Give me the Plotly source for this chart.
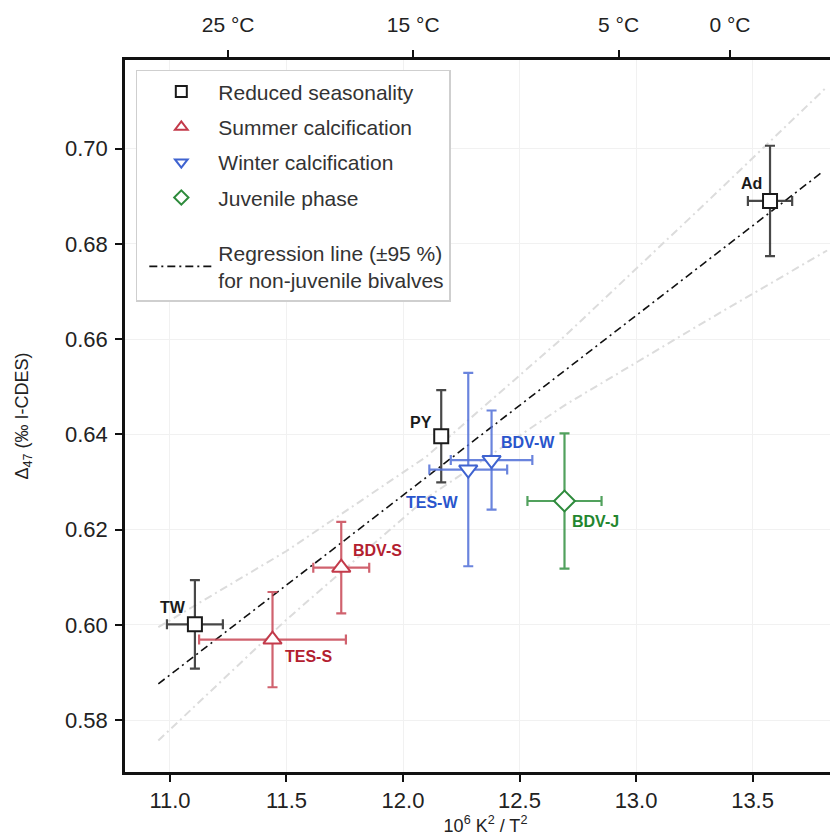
import plotly.graph_objects as go

# ---------------- data ----------------
labels   = ["TW", "PY", "Ad", "TES-S", "BDV-S", "TES-W", "BDV-W", "BDV-J"]
groups   = ["Reduced seasonality", "Reduced seasonality", "Reduced seasonality",
            "Summer calcification", "Summer calcification",
            "Winter calcification", "Winter calcification", "Juvenile phase"]
x_vals   = [11.107, 12.164, 13.575, 11.440, 11.735, 12.280, 12.380, 12.693]
y_vals   = [0.6001, 0.6396, 0.6890, 0.5969, 0.6120, 0.6326, 0.6346, 0.6260]
x_err    = [0.120, 0.0, 0.095, 0.315, 0.120, 0.167, 0.175, 0.159]
y_err    = [0.0093, 0.0097, 0.0116, 0.0100, 0.0096, 0.0203, 0.0104, 0.0142]

# regression line and its 95 % band
reg_x    = [10.95, 13.80]
reg_y    = [0.5876, 0.6951]
band_x   = [10.95, 11.50, 12.10, 12.70, 13.30, 13.82]
band_up  = [0.5995, 0.6155, 0.6353, 0.6609, 0.6886, 0.7130]
band_lo  = [0.5757, 0.6011, 0.6266, 0.6463, 0.6638, 0.6786]

x_ticks  = [11.0, 11.5, 12.0, 12.5, 13.0, 13.5]
y_ticks  = [0.58, 0.60, 0.62, 0.64, 0.66, 0.68, 0.70]
top_temps_c = [25, 15, 5, 0]
top_tick_text = ["25 °C", "15 °C", "5 °C", "0 °C"]

# ---------------- styles ----------------
FONT = "Liberation Sans, Arial, Helvetica, sans-serif"
style = {
    "Reduced seasonality":  dict(symbol="square-open",        line="#1a1a1a", err="rgba(40,40,40,0.85)",   text="#1a1a1a", size=14),
    "Summer calcification": dict(symbol="triangle-up-open",   line="#c33a4a", err="rgba(200,70,85,0.85)",  text="#b3202f", size=16),
    "Winter calcification": dict(symbol="triangle-down-open", line="#3f63d0", err="rgba(80,110,215,0.85)", text="#2a55cc", size=16),
    "Juvenile phase":       dict(symbol="diamond-open",       line="#2e8b3c", err="rgba(50,145,65,0.85)",  text="#23862f", size=16),
}
label_pos = {  # xanchor, xshift(px), yshift(px)
    "TW":    ("right", -7, 17),
    "PY":    ("right", -7, 14),
    "Ad":    ("right", -6, 17),
    "TES-S": ("left", 10, -17),
    "BDV-S": ("left", 10, 17),
    "TES-W": ("right", -8, -33),
    "BDV-W": ("left", 7, 18),
    "BDV-J": ("left", 5, -20),
}

fig = go.Figure()
dash = "8px,4px,2px,4px"

# band and regression
fig.add_trace(go.Scatter(x=band_x, y=band_up, mode="lines", showlegend=False, hoverinfo="skip",
                         line=dict(color="#dcdcdc", width=2, dash=dash)))
fig.add_trace(go.Scatter(x=band_x, y=band_lo, mode="lines", showlegend=False, hoverinfo="skip",
                         line=dict(color="#dcdcdc", width=2, dash=dash)))
fig.add_trace(go.Scatter(x=reg_x, y=reg_y, mode="lines", showlegend=False, hoverinfo="skip",
                         line=dict(color="#111111", width=1.6, dash=dash)))

# data points with error bars
for i, lab in enumerate(labels):
    s = style[groups[i]]
    fig.add_trace(go.Scatter(
        x=[x_vals[i]], y=[y_vals[i]], mode="markers", showlegend=False,
        marker=dict(symbol=s["symbol"].replace("-open", ""), size=s["size"], color="white",
                    line=dict(color=s["line"], width=2)),
        error_x=dict(type="data", array=[x_err[i]], visible=x_err[i] > 0, color=s["err"], thickness=2.2, width=5),
        error_y=dict(type="data", array=[y_err[i]], visible=True, color=s["err"], thickness=2.2, width=5),
    ))
    xa, xs, ys = label_pos[lab]
    fig.add_annotation(x=x_vals[i], y=y_vals[i], text="<b>%s</b>" % lab, showarrow=False,
                       xanchor=xa, yanchor="middle", xshift=xs, yshift=ys,
                       font=dict(family=FONT, size=16, color=s["text"]))

# legend entries (each its own group so the row spacing can be set)
legend_groups = ["Reduced seasonality", "Summer calcification", "Winter calcification", "Juvenile phase"]
for k, g in enumerate(legend_groups):
    s = style[g]
    fig.add_trace(go.Scatter(x=[None], y=[None], mode="markers", name=g, legendgroup="g%d" % k,
                             marker=dict(symbol=s["symbol"], size=11, color=s["line"],
                                         line=dict(color=s["line"], width=2))))
fig.add_trace(go.Scatter(x=[None], y=[None], mode="lines", legendgroup="reg",
                         legendgrouptitle=dict(text=" ", font=dict(size=13)),
                         name="Regression line (±95 %)<br>for non-juvenile bivalves",
                         line=dict(color="#111111", width=1.6, dash=dash)))

# top axis positions: 10^6 / T^2 (T in K)
top_tick_vals = [1e6 / (t + 273.15) ** 2 for t in top_temps_c]
xr = [10.807, 13.901]

fig.update_layout(
    width=838, height=838,
    margin=dict(l=117, r=0, t=52, b=74),
    paper_bgcolor="white", plot_bgcolor="white",
    font=dict(family=FONT, size=20, color="#222"),
    showlegend=True,
    legend=dict(x=0.015, y=0.986, xanchor="left", yanchor="top",
                bgcolor="white", bordercolor="#cfcfcf", borderwidth=1.5,
                font=dict(family=FONT, size=21, color="#333"),
                traceorder="grouped", tracegroupgap=5, indentation=7, itemwidth=64),
    xaxis=dict(range=xr, tickvals=x_ticks, tickformat=".1f", showline=True, linecolor="#111",
               linewidth=2.5, ticks="outside", ticklen=7, tickwidth=1.5, tickcolor="#111",
               showgrid=True, gridcolor="#f1f1f1", gridwidth=1, zeroline=False,
               tickfont=dict(size=22, color="#222"), ticklabelstandoff=0,
               title=dict(text="10<sup>6</sup> K<sup>2</sup> / T<sup>2</sup>", font=dict(size=18), standoff=2)),
    xaxis2=dict(range=xr, overlaying="x", side="top", tickvals=top_tick_vals, ticktext=top_tick_text,
                showline=True, linecolor="#111", linewidth=2.5, ticks="outside", ticklen=7, tickwidth=1.5,
                tickcolor="#111", showgrid=False, zeroline=False, tickfont=dict(size=21, color="#222"),
                ticklabelstandoff=10),
    yaxis=dict(range=[0.5691, 0.7186], tickvals=y_ticks, tickformat=".2f", showline=True, linecolor="#111",
               linewidth=2.5, ticks="outside", ticklen=7, tickwidth=1.5, tickcolor="#111",
               showgrid=True, gridcolor="#f1f1f1", gridwidth=1, zeroline=False,
               tickfont=dict(size=22, color="#222"), ticklabelstandoff=3,
               title=dict(text="Δ<sub>47</sub> (‰ I-CDES)", font=dict(size=18), standoff=32)),
)
# dummy trace so xaxis2 is drawn
fig.add_trace(go.Scatter(x=[None], y=[None], xaxis="x2", showlegend=False, hoverinfo="skip"))

fig.write_html("out.html")
